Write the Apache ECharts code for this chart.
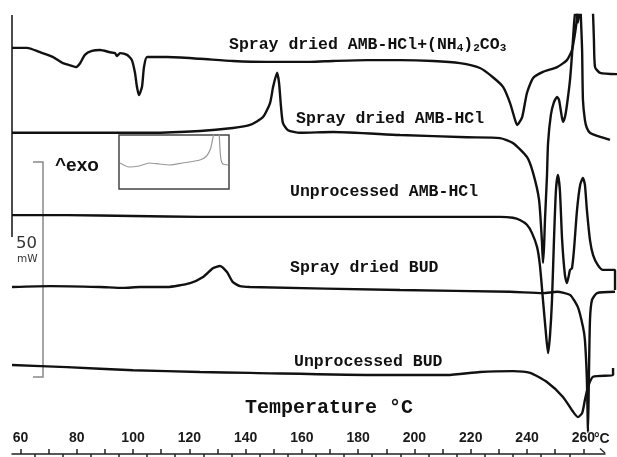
<html>
<head>
<meta charset="utf-8">
<script src="https://cdn.jsdelivr.net/npm/echarts@6.0.0/dist/echarts.min.js"></script>
</head>
<body>
<style>
    html, body, #main {
        width: 617px;
        height: 457px;
        margin: 0;
        background: #fff;
    }
</style>
<div id="main"></div>
<script>

// DSC traces: [temperature in °C, heat flow in mW (exo up, traces stacked with offsets)]
var sprayAmbCarb = [
    [57.0, 92.5], [62.3, 92.5], [67.0, 91.5], [71.6, 90.4], [75.1, 89.0], [78.3, 88.4], [79.7, 88.1],
    [81.2, 89.0], [82.9, 90.9], [85.4, 91.8], [88.3, 92.0], [91.8, 91.5], [93.6, 91.3], [94.3, 90.6],
    [95.4, 91.3], [97.9, 90.9], [99.6, 89.7], [100.7, 86.8], [101.4, 83.6], [102.1, 81.7], [103.2, 83.6],
    [103.9, 88.1], [105.0, 90.4], [107.1, 90.4], [112.1, 90.4], [123.8, 90.0], [135.5, 89.5], [147.6, 89.3],
    [162.9, 89.3], [171.1, 89.5], [183.2, 89.7], [194.9, 89.7], [206.6, 89.5], [216.2, 89.0], [223.3, 87.9],
    [227.9, 85.8], [231.5, 83.6], [234.0, 79.9], [235.8, 76.0], [236.5, 74.9], [238.3, 76.7], [240.0, 82.2],
    [242.2, 85.6], [245.7, 87.0], [250.7, 88.1], [254.2, 89.7], [256.0, 92.0], [257.1, 95.9], [257.8, 99.5],
    [258.9, 112], [262.0, 112], [263.1, 104], [263.5, 100.0], [263.8, 94.3], [264.2, 88.1], [266.0, 86.8],
    [272.0, 86.5]
];
var sprayAmb = [
    [57.0, 73.1], [70.5, 73.1], [88.3, 73.1], [106.0, 73.1], [123.8, 73.5], [135.5, 74.2], [141.6, 74.9],
    [146.2, 76.7], [148.7, 79.9], [149.8, 83.6], [151.2, 86.8], [151.9, 84.5], [152.6, 79.0], [153.3, 75.3],
    [155.1, 73.7], [159.3, 73.1], [171.1, 73.3], [194.9, 72.6], [218.7, 72.1], [230.4, 71.9], [235.0, 70.8],
    [240.0, 67.6], [242.2, 63.9], [244.3, 57.8], [245.3, 48.6], [245.7, 43.4], [246.1, 47.5], [246.4, 53.2],
    [247.1, 63.0], [247.5, 70.8], [248.5, 77.2], [249.6, 80.1], [250.7, 81.3], [251.4, 80.6], [252.1, 77.9],
    [252.8, 75.6], [253.5, 76.7], [254.2, 79.4], [255.3, 85.2], [256.0, 90.9], [256.7, 97.7], [257.4, 102.3],
    [258.1, 98.2], [258.9, 102.3], [259.2, 98.9], [259.6, 92.0], [259.9, 80.6], [260.6, 76.0], [261.3, 74.2],
    [262.4, 73.1], [264.2, 72.6], [269.5, 71.5]
];
var rawAmb = [
    [57.0, 54.3], [76.5, 54.3], [100.0, 54.1], [123.8, 53.9], [159.3, 53.9], [194.9, 53.9], [230.4, 53.9],
    [235.0, 53.7], [237.5, 53.2], [240.0, 52.1], [241.8, 50.2], [243.6, 47.0], [244.6, 42.9], [245.7, 34.9],
    [246.8, 26.9], [247.5, 22.8], [248.2, 26.9], [248.9, 34.9], [249.6, 48.6], [250.3, 60.0], [251.0, 63.5],
    [251.7, 60.0], [252.5, 48.6], [253.5, 40.6], [254.2, 38.8], [254.9, 40.6], [255.3, 41.8], [256.0, 42.2],
    [256.7, 46.3], [257.8, 55.5], [258.9, 61.2], [259.9, 62.8], [260.6, 61.2], [261.3, 55.5], [262.4, 48.6],
    [263.5, 45.2], [265.2, 42.9], [267.0, 41.8], [271.3, 41.8], [271.3, 37.2]
];
var sprayBud = [
    [57.0, 37.9], [70.5, 38.1], [88.3, 37.9], [96.4, 37.7], [102.5, 37.9], [112.1, 37.9], [120.3, 38.8],
    [124.9, 40.2], [128.4, 42.2], [130.9, 42.7], [133.4, 41.3], [135.5, 39.0], [138.0, 38.1], [141.6, 37.9],
    [194.9, 37.2], [234.0, 36.8], [245.7, 36.5], [250.7, 36.8], [255.3, 36.1], [258.1, 33.3], [259.9, 28.8],
    [260.6, 25.8], [261.3, 16.7], [261.7, 4.8], [262.0, 16.7], [262.4, 30.4], [263.1, 34.9], [264.9, 36.5],
    [271.3, 36.8]
];
var rawBud = [
    [57.0, 20.1], [76.5, 19.6], [100.0, 18.9], [123.8, 18.5], [141.6, 18.3], [187.8, 17.8], [211.6, 17.8],
    [223.3, 18.5], [235.0, 18.7], [241.1, 18.3], [247.1, 16.2], [252.8, 12.8], [256.4, 9.4], [258.1, 8.2],
    [259.6, 9.1], [260.6, 12.1], [261.7, 15.1], [263.5, 17.4], [270.6, 17.8], [270.6, 19.4]
];
// small inset trace (enlarged detail)
var insetTrace = [
    [230.3, 5.2], [232.9, 4.4], [235.9, 4.6], [238.8, 5.2], [241.7, 5.0], [244.7, 4.8], [248.5, 5.2],
    [253.5, 5.8], [255.5, 6.6], [256.7, 8.2], [257.3, 10.2], [257.9, 12.2], [258.8, 13.8], [259.1, 11.8],
    [259.4, 7.8], [259.7, 5.8], [260.2, 5.0], [261.7, 4.8]
];

var tickUp = [60, 70, 80, 90, 100, 110, 120, 130, 140, 150, 160, 170, 180, 190, 200, 210, 220, 230, 240, 250, 260];
var tickDown = [65, 75, 85, 95, 105, 115, 125, 135, 145, 155, 165, 175, 185, 195, 205, 215, 225, 235, 245, 255];
var tickLabels = [60, 80, 100, 120, 140, 160, 180, 200, 220, 240, 260];

var monoFont = 'bold 16.5px "Liberation Mono", "DejaVu Sans Mono", monospace';

function trace(data) {
    return {
        type: 'line',
        data: data,
        xAxisIndex: 0,
        yAxisIndex: 0,
        showSymbol: false,
        smooth: 0.2,
        clip: true,
        lineStyle: { color: '#111', width: 2.4 }
    };
}

function label(txt, x, y) {
    return {
        type: 'text', x: x, y: y, z: 10,
        style: { text: txt, font: monoFont, fill: '#111', align: 'left', verticalAlign: 'middle' }
    };
}

var chart = echarts.init(document.getElementById('main'));

chart.setOption({
    animation: false,
    grid: [
        { left: 12, right: 0, top: 15, bottom: 4 },
        { left: 12, width: 593, top: 453, height: 1 },
        { left: 119, width: 110, top: 135, height: 54, show: true, borderColor: '#444', borderWidth: 1.5, backgroundColor: '#fff' }
    ],
    xAxis: [
        { type: 'value', gridIndex: 0, min: 57, max: 272, show: false },
        {
            type: 'value', gridIndex: 1, position: 'top', min: 57, max: 267.7,
            axisLine: { show: true, lineStyle: { color: '#222', width: 1.5 } },
            axisTick: { show: true, customValues: tickUp, length: 5, lineStyle: { color: '#222', width: 1.5 } },
            axisLabel: { customValues: tickLabels, margin: 8, fontSize: 14, fontWeight: 'bold', fontFamily: '"Liberation Sans", Arial, sans-serif', color: '#1a1a1a' },
            splitLine: { show: false }
        },
        {
            type: 'value', gridIndex: 1, position: 'bottom', min: 57, max: 267.7,
            axisLine: { show: false },
            axisTick: { show: true, customValues: tickDown, length: 5, lineStyle: { color: '#222', width: 1.5 } },
            axisLabel: { show: false },
            splitLine: { show: false }
        },
        { type: 'value', gridIndex: 2, min: 230, max: 262, show: false }
    ],
    yAxis: [
        { type: 'value', gridIndex: 0, min: 0, max: 100, show: false },
        { type: 'value', gridIndex: 1, min: 0, max: 1, show: false },
        { type: 'value', gridIndex: 2, min: 0, max: 10.8, show: false }
    ],
    series: [
        trace(sprayAmbCarb),
        trace(sprayAmb),
        trace(rawAmb),
        trace(sprayBud),
        trace(rawBud),
        {
            type: 'line',
            data: insetTrace,
            xAxisIndex: 3,
            yAxisIndex: 2,
            showSymbol: false,
            smooth: 0.2,
            clip: true,
            lineStyle: { color: '#999', width: 1.2 }
        }
    ],
    graphic: [
        { type: 'line', shape: { x1: 12, y1: 15, x2: 12, y2: 237 }, style: { stroke: '#111', lineWidth: 1.5 } },
        { type: 'polyline', shape: { points: [[33, 162], [43, 162], [43, 377], [33, 377]] }, style: { stroke: '#888', lineWidth: 1.5, fill: null } },
        { type: 'line', shape: { x1: 600, y1: 448.5, x2: 605, y2: 453 }, style: { stroke: '#222', lineWidth: 1.3 } },
        {
            type: 'text', x: 229, y: 45, z: 10,
            style: {
                text: '{a|Spray dried AMB-HCl+(NH}{s|4}{a|)}{s|2}{a|CO}{s|3}',
                fill: '#111', align: 'left', verticalAlign: 'middle',
                rich: {
                    a: { font: monoFont, lineHeight: 18, verticalAlign: 'middle' },
                    s: { font: 'bold 11px "Liberation Mono", monospace', lineHeight: 10, verticalAlign: 'bottom' }
                }
            }
        },
        label('Spray dried AMB-HCl', 296, 118.5),
        label('Unprocessed AMB-HCl', 290, 192),
        label('Spray dried BUD', 290, 268),
        label('Unprocessed BUD', 294, 362),
        {
            type: 'text', x: 245, y: 408, z: 10,
            style: { text: 'Temperature °C', font: 'bold 20px "Liberation Mono", monospace', fill: '#111', align: 'left', verticalAlign: 'middle' }
        },
        {
            type: 'text', x: 55, y: 166, z: 10,
            style: { text: '^exo', font: 'bold 19px "Liberation Sans", Arial, sans-serif', fill: '#111', align: 'left', verticalAlign: 'middle' }
        },
        {
            type: 'text', x: 16, y: 244, z: 10,
            style: { text: '50', font: '16.5px "DejaVu Sans", sans-serif', fill: '#333', align: 'left', verticalAlign: 'middle' }
        },
        {
            type: 'text', x: 17, y: 259, z: 10,
            style: { text: 'mW', font: '10.5px "DejaVu Sans", sans-serif', fill: '#333', align: 'left', verticalAlign: 'middle' }
        },
        {
            type: 'text', x: 594, y: 439, z: 10,
            style: { text: '°C', font: 'bold 14px "Liberation Sans", Arial, sans-serif', fill: '#1a1a1a', align: 'left', verticalAlign: 'middle' }
        }
    ]
});

</script>
</body>
</html>
